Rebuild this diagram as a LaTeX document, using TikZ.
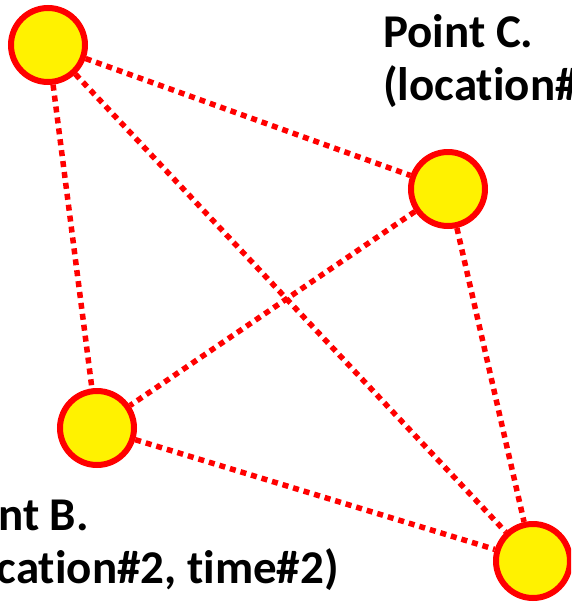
\documentclass[tikz,border=0pt]{standalone}
\usepackage{fontspec}
\setmainfont[Ligatures=NoCommon]{Carlito}
\begin{document}
\begin{tikzpicture}[x=1pt,y=-1pt,
  pt/.style={circle,draw=red,fill=yellow,line width=6pt,minimum size=74pt,inner sep=0pt},
  link/.style={red,line width=5.5pt,dash pattern=on 6pt off 5pt},
  lbl/.style={font=\bfseries\fontsize{47}{53}\selectfont,align=left,inner sep=0pt,anchor=north west}]
\useasboundingbox (0,0) rectangle (571,603);
\clip (0,0) rectangle (571,603);
\node[pt] (A) at (48,45) {};
\node[pt] (C) at (448,189) {};
\node[pt] (B) at (97,428) {};
\node[pt] (D) at (533,561) {};
\draw[link] (A) -- (C);
\draw[link] (A) -- (B);
\draw[link] (A) -- (D);
\draw[link] (C) -- (B);
\draw[link] (C) -- (D);
\draw[link] (B) -- (D);
\node[lbl] (lc) at (383,14) {Point C.\\(location\#3, time\#3)};
\node[lbl] (lb) at (-55,497) {\hspace*{-8pt}Point B.\\(location\#2, time\#2)};
\end{tikzpicture}
\end{document}
